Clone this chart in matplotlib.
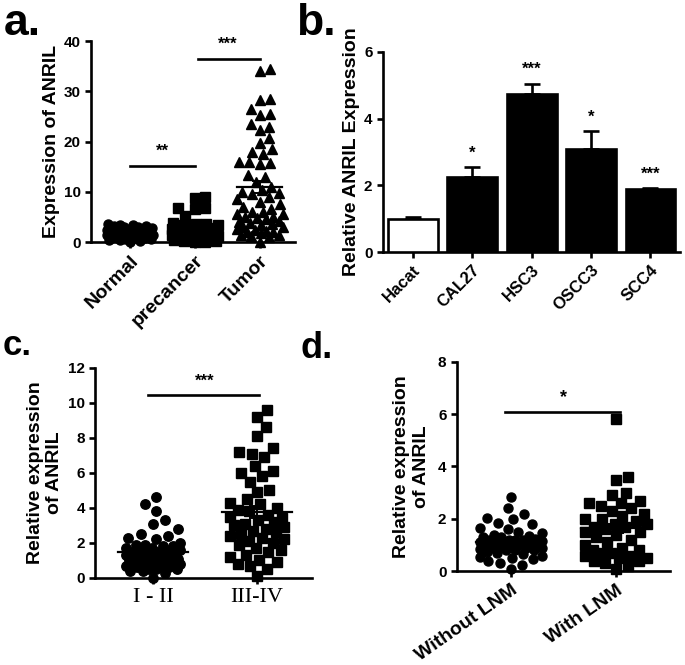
import matplotlib
matplotlib.use("Agg")
import matplotlib.pyplot as plt
import numpy as np

plt.rcParams['font.family'] = ['Liberation Sans', 'DejaVu Sans']
plt.rcParams['font.weight'] = 'bold'

# panel a: expression of ANRIL in tissues
a_groups = ["Normal", "precancer", "Tumor"]
a_normal = [3.5, 3.4, 3.3, 3.2, 3.1, 3.0, 2.9, 2.8, 2.6, 2.5, 2.3, 2.2, 2.0, 1.9, 1.8,
            1.6, 1.5, 1.4, 1.3, 1.2, 1.1, 1.0, 0.9, 0.8, 0.7, 0.6, 0.5, 0.4, 0.3, 0.0]
a_precancer = [9.0, 8.7, 6.8, 6.8, 6.5, 5.2, 3.8, 3.6, 3.5, 3.4, 3.3, 3.2, 3.0, 2.8, 2.7,
               2.5, 2.3, 2.2, 2.0, 1.9, 1.8, 1.6, 1.5, 1.4, 1.2, 1.1, 1.0, 0.9, 0.8,
               0.7, 0.6, 0.5, 0.4, 0.3, 0.2, 0.1, 0.0]
a_tumor = [34.5, 34.0, 28.5, 28.3, 26.5, 25.5, 25.3, 23.5, 23.0, 22.3, 20.7, 19.7, 18.5,
           18.0, 17.5, 16.0, 16.0, 15.8, 15.5, 13.3, 13.0, 12.0, 11.0, 10.3, 10.0, 9.7,
           9.5, 9.0, 8.5, 8.0, 7.5, 7.0, 6.5, 6.0, 6.0, 5.5, 5.5, 5.0, 5.0, 4.8, 4.5,
           4.2, 4.0, 3.8, 3.5, 3.3, 3.0, 3.0, 2.7, 2.5, 2.3, 2.0, 2.0, 1.8, 1.5, 1.5,
           1.3, 1.0, 0.0]

# panel b: cell lines
b_cells = ["Hacat", "CAL27", "HSC3", "OSCC3", "SCC4"]
b_mean = [1.0, 2.25, 4.75, 3.08, 1.88]
b_sem = [0.05, 0.3, 0.3, 0.54, 0.04]
b_stars = ["", "*", "***", "*", "***"]

# panel c: clinical stage
c_groups = ["I - II", "III-IV"]
c_early = [4.6, 4.2, 3.8, 3.3, 3.1, 2.8, 2.5, 2.4, 2.3, 2.2, 2.0, 1.9, 1.9, 1.8, 1.8,
           1.7, 1.7, 1.6, 1.6, 1.5, 1.5, 1.5, 1.4, 1.4, 1.3, 1.3, 1.3, 1.2, 1.2, 1.1,
           1.1, 1.0, 1.0, 1.0, 0.9, 0.9, 0.9, 0.8, 0.8, 0.8, 0.7, 0.7, 0.7, 0.6, 0.6,
           0.6, 0.5, 0.5, 0.5, 0.4, 0.4, 0.3, 0.0]
c_late = [9.6, 9.2, 8.6, 8.1, 7.4, 7.2, 7.1, 6.9, 6.4, 6.1, 6.0, 5.8, 5.5, 5.0, 4.9,
          4.5, 4.3, 4.2, 4.0, 3.9, 3.8, 3.6, 3.5, 3.4, 3.3, 3.2, 3.1, 3.0, 2.9, 2.8,
          2.7, 2.6, 2.5, 2.4, 2.3, 2.2, 2.1, 2.0, 1.9, 1.7, 1.6, 1.5, 1.3, 1.2, 1.0,
          0.9, 0.8, 0.7, 0.5, 0.1]

# panel d: lymph node metastasis
d_groups = ["Without LNM", "With LNM"]
d_without = [2.85, 2.4, 2.2, 2.05, 2.0, 1.85, 1.8, 1.65, 1.6, 1.5, 1.45, 1.4, 1.35, 1.3,
             1.3, 1.25, 1.2, 1.2, 1.2, 1.2, 1.15, 1.1, 1.1, 1.1, 1.05, 1.0, 1.0, 1.0,
             1.0, 0.95, 0.9, 0.9, 0.9, 0.85, 0.8, 0.8, 0.8, 0.75, 0.7, 0.65, 0.6,
             0.55, 0.5, 0.45, 0.4, 0.3, 0.25, 0.1]
d_with = [5.8, 3.6, 3.5, 3.0, 2.9, 2.7, 2.6, 2.6, 2.5, 2.4, 2.3, 2.2, 2.1, 2.0, 2.0,
          1.9, 1.8, 1.8, 1.7, 1.7, 1.6, 1.5, 1.5, 1.4, 1.3, 1.2, 1.1, 1.0, 0.9, 0.8,
          0.8, 0.7, 0.7, 0.6, 0.6, 0.5, 0.5, 0.4, 0.4, 0.3, 0.2, 0.1]

LW = 1.9


def beeswarm(ax, vals, center, d, half):
    # place points bottom-up at the spot nearest the centre that doesn't collide
    sx = ax.bbox.width / np.diff(ax.get_xlim())[0]
    sy = ax.bbox.height / np.diff(ax.get_ylim())[0]
    v = np.sort(np.asarray(vals, float))
    placed = []
    xs = []
    grid = np.linspace(-half, half, 41)
    for y in v * sy:
        cands = [0.0]
        for px, py in placed:
            dy = abs(y - py)
            if dy < d:
                off = np.sqrt(d * d - dy * dy)
                cands += [px + off, px - off]
        cands.sort(key=abs)
        best = None
        for c in cands:
            if abs(c) > half:
                continue
            if all((c - px) ** 2 + (y - py) ** 2 >= d * d - 1e-6 for px, py in placed):
                best = c
                break
        if best is None:
            # no free spot inside the column width: take the least crowded one
            scores = [min((g - px) ** 2 + (y - py) ** 2 for px, py in placed) for g in grid]
            best = grid[int(np.argmax(scores))]
        placed.append((best, y))
        xs.append(center + best / sx)
    return np.array(xs), v


def style(ax):
    for s in ["top", "right"]:
        ax.spines[s].set_visible(False)
    for s in ["left", "bottom"]:
        ax.spines[s].set_linewidth(LW)
    ax.tick_params(width=LW, length=4, labelsize=11)
    for lab in ax.get_yticklabels():
        lab.set_fontweight('bold')


def dot_panel(ax, data, markers, msize, d, half, mlw):
    for i, (vals, mk) in enumerate(zip(data, markers)):
        xs, ys = beeswarm(ax, vals, i, d, half)
        ax.plot(xs, ys, mk, color='black', markersize=msize, linestyle='none',
                clip_on=False, zorder=3)
        m = np.mean(vals)
        se = np.std(vals, ddof=1) / np.sqrt(len(vals))
        ax.plot([i - mlw, i + mlw], [m, m], color='black', lw=1.6, zorder=4)
        ax.errorbar(i, m, yerr=se, color='black', capsize=6, elinewidth=1.4,
                    capthick=1.4, zorder=4)
    ax.set_xticks(range(len(data)))


fig = plt.figure(figsize=(6.85, 6.65), dpi=100)

# ---- a ----
ax = fig.add_axes([0.133, 0.636, 0.298, 0.302])
ax.set_xlim(-0.6, 2.55)
ax.set_ylim(0, 40)
dot_panel(ax, [a_normal, a_precancer, a_tumor], ['o', 's', '^'], 6.5, 10.5, 23, 0.35)
ax.set_yticks([0, 10, 20, 30, 40])
style(ax)
ax.set_xticklabels(a_groups, rotation=45, ha='right', rotation_mode='anchor',
                   fontsize=14, fontweight='bold')
ax.set_ylabel("Expression of ANRIL", fontsize=14, fontweight='bold')
ax.yaxis.set_label_coords(-0.152, 0.5)
ax.plot([0, 1], [15.1, 15.1], color='black', lw=LW)
ax.text(0.5, 18.0, "**", ha='center', va='center', fontsize=12)
ax.plot([1.05, 2.0], [36.5, 36.5], color='black', lw=LW)
ax.text(1.5, 39.3, "***", ha='center', va='center', fontsize=12)

# ---- b ----
ax = fig.add_axes([0.559, 0.621, 0.434, 0.301])
xb = np.arange(len(b_cells))
colors = ['white'] + ['black'] * (len(b_cells) - 1)
ax.bar(xb, b_mean, width=0.84, color=colors, edgecolor='black', linewidth=LW,
       zorder=3)
ax.errorbar(xb, b_mean, yerr=[np.zeros(len(b_mean)), b_sem], fmt='none',
            ecolor='black', elinewidth=LW, capsize=6, capthick=LW, zorder=2)
for x, m, s, st in zip(xb, b_mean, b_sem, b_stars):
    ax.text(x, m + s + 0.42, st, ha='center', va='center', fontsize=12)
ax.set_xlim(-0.5, 4.5)
ax.set_ylim(0, 6)
ax.set_yticks([0, 2, 4, 6])
ax.set_xticks(xb)
style(ax)
ax.set_xticklabels(b_cells, rotation=45, ha='right', rotation_mode='anchor',
                   fontsize=12, fontweight='bold')
ax.set_ylabel("Relative ANRIL Expression", fontsize=14, fontweight='bold')
ax.yaxis.set_label_coords(-0.077, 0.5)

# ---- c ----
ax = fig.add_axes([0.139, 0.131, 0.316, 0.316])
ax.set_xlim(-0.56, 1.53)
ax.set_ylim(0, 12)
dot_panel(ax, [c_early, c_late], ['o', 's'], 6.8, 12.5, 27, 0.34)
ax.set_yticks(range(0, 13, 2))
style(ax)
ax.set_xticklabels(c_groups, fontsize=16, fontweight='normal',
                   family=['Liberation Serif', 'DejaVu Serif'])
ax.set_ylabel("Relative expression\nof ANRIL", fontsize=14, fontweight='bold')
ax.yaxis.set_label_coords(-0.148, 0.5)
ax.plot([-0.05, 1.02], [10.46, 10.46], color='black', lw=LW)
ax.text(0.5, 11.2, "***", ha='center', va='center', fontsize=12)

# ---- d ----
ax = fig.add_axes([0.667, 0.141, 0.311, 0.315])
ax.set_xlim(-0.51, 1.51)
ax.set_ylim(0, 8)
dot_panel(ax, [d_without, d_with], ['o', 's'], 6.5, 12, 31, 0.33)
ax.set_yticks([0, 2, 4, 6, 8])
style(ax)
ax.set_xticklabels(d_groups, rotation=35, ha='right', rotation_mode='anchor',
                   fontsize=14, fontweight='bold')
ax.set_ylabel("Relative expression\nof ANRIL", fontsize=14, fontweight='bold')
ax.yaxis.set_label_coords(-0.127, 0.5)
ax.plot([-0.05, 1.04], [6.1, 6.1], color='black', lw=LW)
ax.text(0.5, 6.65, "*", ha='center', va='center', fontsize=13)

# panel letters
for x, y, t, fs in [(0.006, 0.947, "a.", 32), (0.432, 0.947, "b.", 32),
                    (0.004, 0.466, "c.", 25), (0.438, 0.462, "d.", 26)]:
    fig.text(x, y, t, fontsize=fs, fontweight='bold', va='baseline')

fig.savefig("out.png", dpi=100)
